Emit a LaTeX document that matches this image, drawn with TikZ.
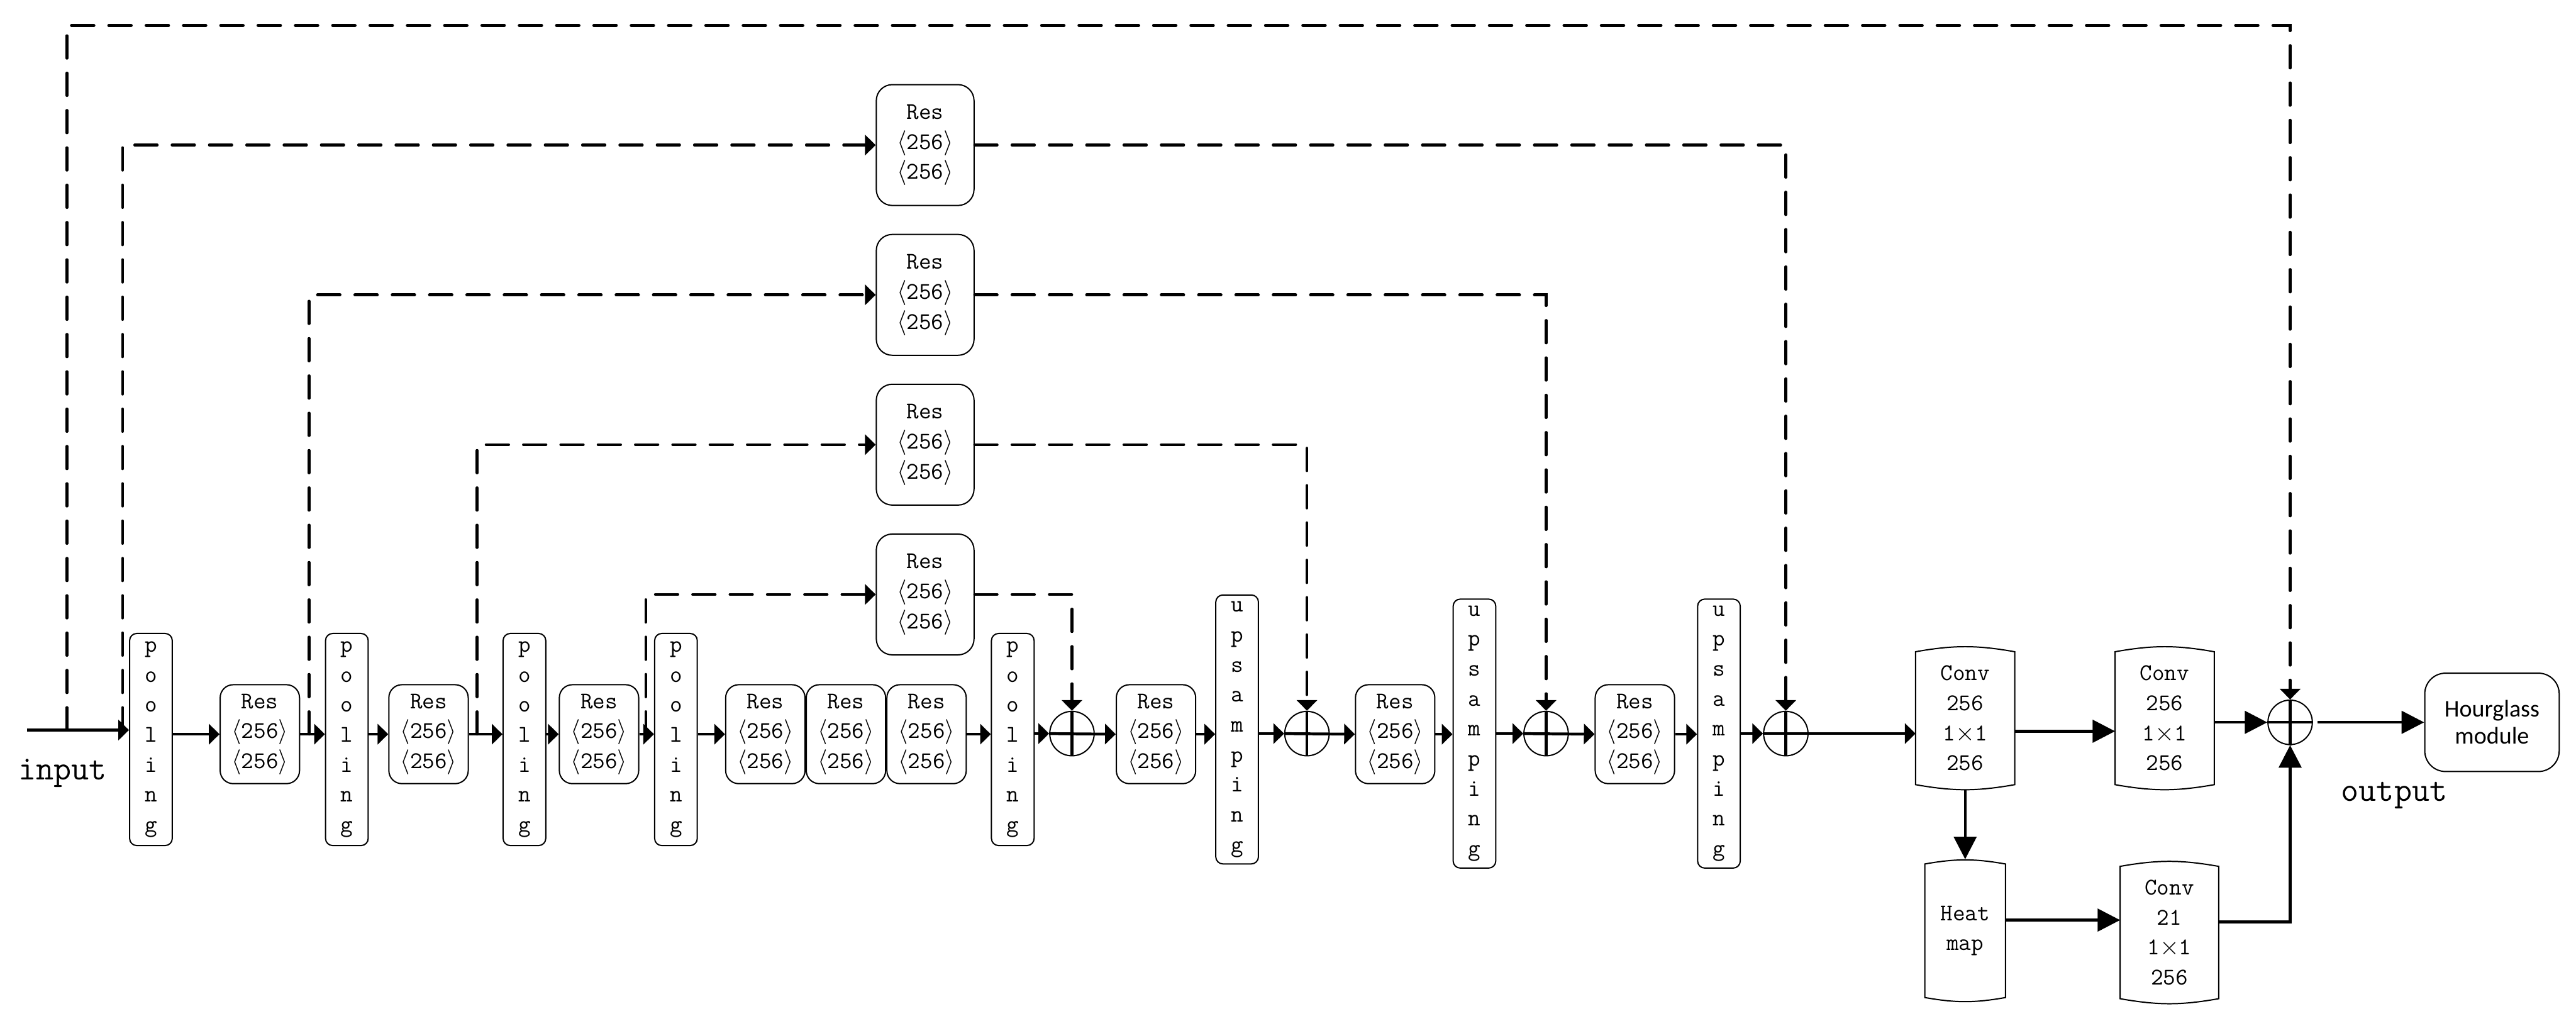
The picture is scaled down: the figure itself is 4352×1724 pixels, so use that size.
\documentclass[tikz,border=0pt]{standalone}
\usepackage{fontspec}
\newfontfamily\hgfont{Carlito}
\usetikzlibrary{arrows.meta,positioning}
\newcommand{\netfont}{\fontsize{11.5}{14.4}\selectfont\ttfamily}
\newcommand{\labelfont}{\fontsize{16.5}{18}\selectfont\ttfamily}
\newcommand{\reslabel}{Res\\$\langle$256$\rangle$\\$\langle$256$\rangle$}
\newcommand{\poollabel}{p\\o\\o\\l\\i\\n\\g}
\newcommand{\uplabel}{u\\p\\s\\a\\m\\p\\i\\n\\g}

\begin{document}
\begin{tikzpicture}[
  x=0.01cm, y=-0.01cm,
  resbox/.style={
    draw,
    line width=0.6pt,
    rounded corners=0.22cm,
    minimum width=1.34cm,
    minimum height=1.67cm,
    inner sep=0pt,
    align=center,
    font=\netfont
  },
  restop/.style={resbox,rounded corners=0.27cm,minimum width=1.65cm,minimum height=2.04cm},
  poolbox/.style={
    draw,
    line width=0.6pt,
    rounded corners=0.12cm,
    minimum width=0.72cm,
    minimum height=3.58cm,
    inner sep=0pt,
    align=center,
    font=\netfont
  },
  upbox/.style={poolbox,minimum height=4.54cm},
  canbox/.style={minimum width=1.66cm,minimum height=2.39cm,inner sep=0pt,align=center,font=\netfont},
  hgbox/.style={
    draw,
    line width=0.6pt,
    rounded corners=0.35cm,
    minimum width=2.27cm,
    minimum height=1.66cm,
    align=center,
    font=\hgfont\fontsize{11.5}{13}\selectfont
  },
  sumnode/.style={circle,draw,line width=0.6pt,minimum size=0.75cm,inner sep=0pt},
  arrow/.style={-{Triangle[length=1.8mm,width=3.4mm]},line width=1.35pt},
  bigarrow/.style={-{Triangle[length=3.8mm,width=3.8mm]},line width=1.35pt},
  skipline/.style={arrow,line cap=round,dash pattern=on 0.38cm off 0.25cm},
  cross/.style={line width=1.35pt}
]
  \useasboundingbox (0,0) rectangle (4352,1724);

  % encoder
  \node[poolbox] (pool1) at (255,1249) {\poollabel};
  \node[resbox] (res1) at (439,1240) {\reslabel};
  \node[poolbox] (pool2) at (586,1249) {\poollabel};
  \node[resbox] (res2) at (724,1240) {\reslabel};
  \node[poolbox] (pool3) at (886,1249) {\poollabel};
  \node[resbox] (res3) at (1012,1240) {\reslabel};
  \node[poolbox] (pool4) at (1142,1249) {\poollabel};
  \node[resbox] (res4a) at (1293,1240) {\reslabel};
  \node[resbox,right=0pt of res4a] (res4b) {\reslabel};
  \node[resbox,right=0pt of res4b] (res4c) {\reslabel};
  \node[poolbox] (pool5) at (1711,1249) {\poollabel};

  % decoder
  \node[sumnode] (sum1) at (1811,1239) {};
  \node[resbox] (res5) at (1953,1240) {\reslabel};
  \node[upbox] (up1) at (2090,1232) {\uplabel};
  \node[sumnode] (sum2) at (2208,1239) {};
  \node[resbox] (res6) at (2357,1240) {\reslabel};
  \node[upbox] (up2) at (2491,1239) {\uplabel};
  \node[sumnode] (sum3) at (2612,1239) {};
  \node[resbox] (res7) at (2762,1240) {\reslabel};
  \node[upbox] (up3) at (2904,1239) {\uplabel};
  \node[sumnode] (sum4) at (3017,1239) {};

  % skip branches
  \node[restop] (restopA) at (1563,245) {\reslabel};
  \node[restop] (restopB) at (1563,498) {\reslabel};
  \node[restop] (restopC) at (1563,751) {\reslabel};
  \node[restop] (restopD) at (1563,1004) {\reslabel};

  % head
  \node[canbox] (conv1) at (3320,1213) {Conv\\256\\1$\times$1\\256};
  \node[canbox] (conv2) at (3657,1213) {Conv\\256\\1$\times$1\\256};
  \node[canbox,minimum width=1.35cm,minimum height=2.40cm] (heat) at (3320,1572) {Heat\\map};
  \node[canbox,minimum width=1.65cm,minimum height=2.38cm] (conv3) at (3665,1575) {Conv\\21\\1$\times$1\\256};
  \node[sumnode] (sum5) at (3869,1220) {};
  \node[hgbox] (hg) at (4210,1220) {Hourglass\\module};

  \node[font=\labelfont,anchor=base] (inlabel) at (106,1317) {input};
  \node[font=\labelfont,anchor=base] (outlabel) at (4045,1353) {output};

  \coordinate (inputstart) at (46,1233);
  \coordinate (tapA) at (113,1233);
  \coordinate (roof) at (113,43);
  \coordinate (tapB) at (207,1233);
  \coordinate (tapC) at (522,1240);
  \coordinate (tapD) at (806,1240);
  \coordinate (tapE) at (1091,1240);

  \foreach \c in {conv1,conv2,heat,conv3}
    \draw[line width=0.6pt] ([yshift=-0.08cm]\c.north west) to[bend left=10] ([yshift=-0.08cm]\c.north east)
      -- ([yshift=0.08cm]\c.south east) to[bend left=10] ([yshift=0.08cm]\c.south west) -- cycle;

  % main path
  \draw[arrow] (inputstart) -- (inputstart -| pool1.west);
  \foreach \a/\b in {pool1/res1,pool2/res2,pool3/res3,pool4/res4a}
    \draw[arrow] (\a.east |- \b.west) -- (\b.west);
  \foreach \a/\b in {res1/pool2,res2/pool3,res3/pool4,res4c/pool5,res5/up1,res6/up2,res7/up3}
    \draw[arrow] (\a.east) -- (\a.east -| \b.west);
  \foreach \a/\b/\c in {pool5/sum1/res5,up1/sum2/res6,up2/sum3/res7}
  {
    \draw[arrow] (\a.east |- \b.west) -- (\b.west);
    \draw[arrow] (\b.west) -- (\c.west);
  }
  \draw[arrow] (up3.east |- sum4.west) -- (sum4.west);
  \draw[arrow] (sum4.west) -- (sum4.west -| conv1.west);
  \foreach \s in {sum1,sum2,sum3,sum4}
    \draw[cross] (\s.north) -- (\s.south);

  % skip connections
  \draw[skipline] (tapA) -- (roof) -| (sum5.north);
  \foreach \t/\r/\s in {tapB/restopA/sum4,tapC/restopB/sum3,tapD/restopC/sum2,tapE/restopD/sum1}
  {
    \draw[skipline] (\t) |- (\r.west);
    \draw[skipline] (\r.east) -| (\s.north);
  }

  % output head
  \draw[bigarrow] ([yshift=-0.22cm]conv1.east) -- ([yshift=-0.22cm]conv2.west);
  \draw[bigarrow] (conv1.south) -- (heat.north);
  \draw[bigarrow] ([yshift=0.18cm]heat.east) -- ([yshift=0.18cm]heat.east -| conv3.west);
  \draw[bigarrow] ([yshift=0.18cm]conv3.east) -| (sum5.south);
  \draw[bigarrow] (conv2.east |- sum5.west) -- (sum5.west);
  \draw[cross] (sum5.north) -- (sum5.south) (sum5.west) -- (sum5.east);
  \draw[bigarrow] ([xshift=0.08cm]sum5.east) -- (hg.west);
\end{tikzpicture}
\end{document}
